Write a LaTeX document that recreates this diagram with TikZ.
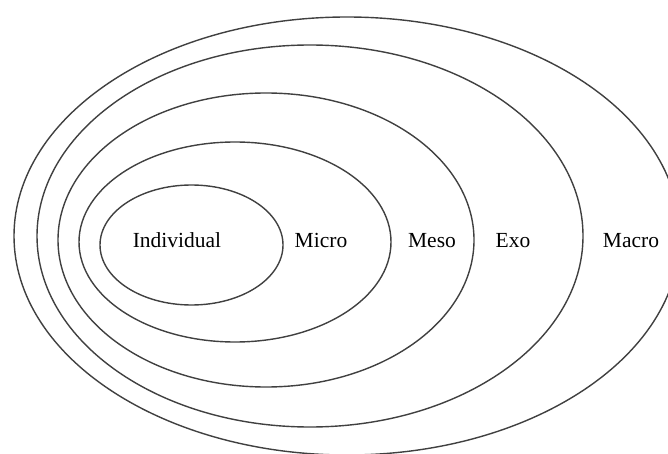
\documentclass[tikz,border=0pt]{standalone}
\usepackage{fontspec}
\setmainfont{Liberation Serif}
\usepackage{tikz}
\usetikzlibrary{positioning}

\begin{document}
\begin{tikzpicture}[
  x=1pt, y=-1pt,
  font=\fontsize{21.5}{25}\selectfont,
  ring/.style={draw=black!75, line width=1.4pt},
  lbl/.style={inner sep=0pt, anchor=base}
]
  \useasboundingbox (0,0) rectangle (668,454);
  \clip (0,0) rectangle (668,454);
  \draw[ring] (347,236) ellipse (333 and 219);
  \draw[ring] (310,236) ellipse (273 and 191);
  \draw[ring] (266,240) ellipse (208 and 147);
  \draw[ring] (235,242) ellipse (156 and 100);
  \draw[ring] (191.5,245) ellipse (91.5 and 60);
  \node[lbl] (ind) at (177,247) {Individual};
  \node[lbl] (mic) at (321,247) {Micro};
  \node[lbl] (mes) at (432,247) {Meso};
  \node[lbl] (exo) at (513,247) {Exo};
  \node[lbl] (mac) at (631,247) {Macro};
\end{tikzpicture}
\end{document}
